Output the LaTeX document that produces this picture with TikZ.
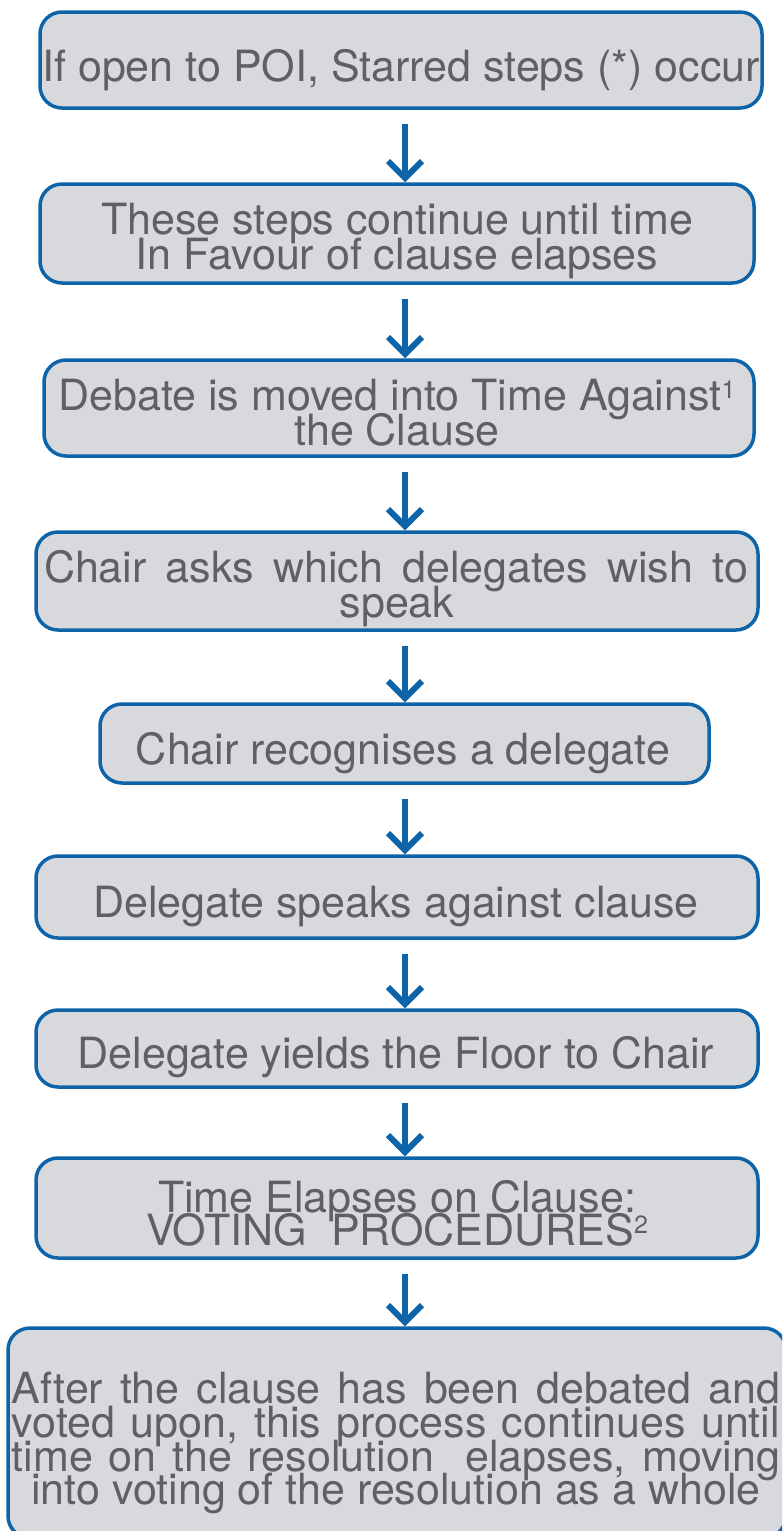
\documentclass[tikz,border=0pt]{standalone}
\usepackage{fontspec}
\setmainfont{TeX Gyre Heros}
\usetikzlibrary{arrows.meta}
\definecolor{bordc}{RGB}{14,100,168}
\definecolor{fillc}{RGB}{216,217,220}
\definecolor{txtc}{RGB}{95,96,98}
\newcommand{\supnum}[1]{\raisebox{12pt}{\fontsize{25}{25}\selectfont #1}}
\begin{document}
\begin{tikzpicture}[x=1pt,y=-1pt,
  stepbox/.style={draw=bordc, fill=fillc, line width=3.5pt, rounded corners=22pt, inner sep=0pt},
  steptext/.style={text=txtc, font=\fontsize{43}{35}\selectfont, inner sep=0pt, anchor=base},
  arr/.style={draw=bordc, line width=6pt, shorten <=14pt, -{Straight Barb[length=17pt,width=34pt]}}]
\useasboundingbox (0,0) rectangle (782,1531);
\clip (0,0) rectangle (782,1531);
\coordinate (ax) at (405,0);
% boxes
\node[stepbox, minimum width=722pt, minimum height=96pt] (b1) at (401,60) {};
\node[stepbox, minimum width=714pt, minimum height=99pt] (b2) at (397,233.5) {};
\node[stepbox, minimum width=710pt, minimum height=96pt] (b3) at (399,408) {};
\node[stepbox, minimum width=722pt, minimum height=98pt] (b4) at (397,581) {};
\node[stepbox, minimum width=609pt, minimum height=79pt] (b5) at (404.5,743.5) {};
\node[stepbox, minimum width=722pt, minimum height=82pt] (b6) at (397,897) {};
\node[stepbox, minimum width=722pt, minimum height=77pt] (b7) at (397,1048.5) {};
\node[stepbox, minimum width=722pt, minimum height=100pt] (b8) at (397,1208) {};
\node[stepbox, minimum width=778pt, minimum height=210pt] (b9) at (397,1433) {};
% texts
\node[steptext] (t1) at (401,81) {If open to POI, Starred steps (*) occur};
\node[steptext] (t2a) at (397,234) {These steps continue until time};
\node[steptext] (t2b) at (397,269) {In Favour of clause elapses};
\node[steptext] (t3a) at (397,410) {Debate is moved into Time Against\supnum{1}};
\node[steptext] (t3b) at (397,445) {the Clause};
\node[steptext] (t4a) at (396,582) {\makebox[704pt][s]{Chair asks which delegates wish to}};
\node[steptext] (t4b) at (397,617) {speak};
\node[steptext] (t5) at (403,764) {Chair recognises a delegate};
\node[steptext] (t6) at (396,917) {Delegate speaks against clause};
\node[steptext] (t7) at (396,1068) {Delegate yields the Floor to Chair};
\node[steptext] (t8a) at (397,1212) {Time Elapses on Clause:};
\node[steptext] (t8b) at (397,1245) {VOTING\ \ PROCEDURES\supnum{2}};
\node[steptext] (t9a) at (396,1403) {\makebox[768pt][s]{After the clause has been debated and}};
\node[steptext] (t9b) at (396,1437) {\makebox[768pt][s]{voted upon, this process continues until}};
\node[steptext] (t9c) at (396,1471) {\makebox[768pt][s]{time on the resolution\ \ elapses, moving}};
\node[steptext] (t9d) at (396,1504) {into voting of the resolution as a whole};
% arrows
\draw[arr] (b1.south -| ax) -- (b2.north -| ax);
\draw[arr] (b2.south -| ax) -- (b3.north -| ax);
\draw[arr] (b3.south -| ax) -- (b4.north -| ax);
\draw[arr] (b4.south -| ax) -- (b5.north -| ax);
\draw[arr] (b5.south -| ax) -- (b6.north -| ax);
\draw[arr] (b6.south -| ax) -- (b7.north -| ax);
\draw[arr] (b7.south -| ax) -- (b8.north -| ax);
\draw[arr] (b8.south -| ax) -- (b9.north -| ax);
\end{tikzpicture}
\end{document}
